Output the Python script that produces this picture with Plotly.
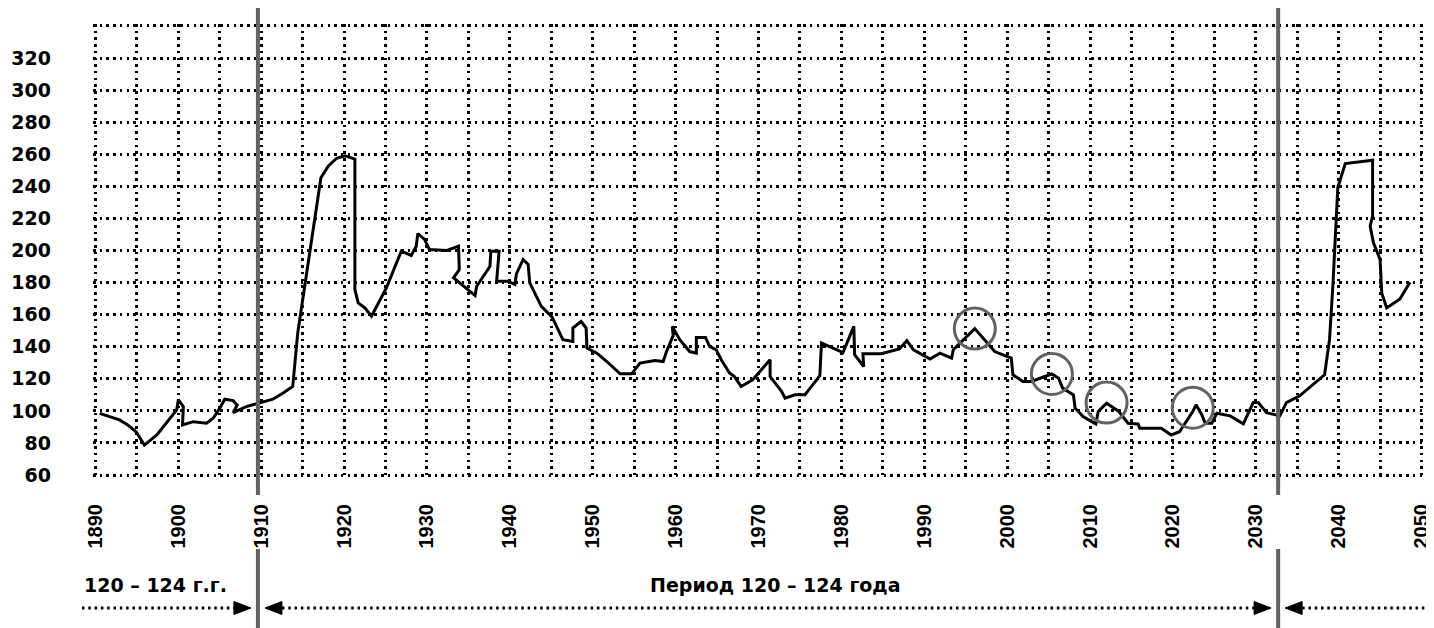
import plotly.graph_objects as go

# ---- data ----
years = [1890.5, 1892.9, 1893.9, 1894.9, 1895.9, 1897.4, 1899.8, 1900.0, 1900.6, 1900.5,
         1901.8, 1903.4, 1904.2, 1905.0, 1905.6, 1906.6, 1907.1, 1906.8, 1906.6, 1908.2,
         1909.8, 1911.4, 1912.6, 1913.8, 1914.4, 1917.2, 1918.1, 1919.1, 1920.1, 1921.3,
         1921.3, 1921.7, 1922.5, 1923.3, 1925.1, 1926.9, 1928.1, 1928.7, 1928.9, 1929.7,
         1930.3, 1932.4, 1933.8, 1933.9, 1933.2, 1935.0, 1935.8, 1936.0, 1937.6, 1937.7,
         1938.7, 1938.4, 1939.8, 1940.6, 1940.8, 1941.6, 1942.2, 1942.4, 1943.8, 1945.1,
         1946.4, 1947.6, 1947.6, 1948.6, 1949.2, 1949.3, 1950.5, 1951.7, 1953.3, 1954.7,
         1955.7, 1957.5, 1958.5, 1958.9, 1959.7, 1959.6, 1960.5, 1961.7, 1962.5, 1962.5,
         1963.6, 1964.1, 1964.9, 1965.5, 1966.5, 1967.1, 1967.9, 1969.3, 1971.4, 1971.4,
         1972.4, 1972.8, 1973.2, 1974.4, 1975.6, 1977.4, 1977.6, 1980.2, 1981.5, 1981.6,
         1982.7, 1982.6, 1984.8, 1987.0, 1987.9, 1988.7, 1990.7, 1991.9, 1993.3, 1993.5,
         1996.1, 1998.5, 2000.5, 2000.7, 2001.9, 2002.9, 2004.3, 2005.4, 2006.2, 2006.7,
         2008.0, 2008.2, 2009.2, 2010.7, 2011.0, 2012.0, 2013.4, 2014.6, 2015.8, 2016.0,
         2018.6, 2019.8, 2020.8, 2022.4, 2022.8, 2023.5, 2023.9, 2024.7, 2025.3, 2026.9,
         2028.5, 2029.7, 2030.3, 2031.3, 2032.9, 2033.7, 2035.3, 2038.3, 2038.9, 2039.3,
         2039.9, 2040.8, 2044.1, 2044.1, 2043.8, 2044.2, 2045.0, 2045.2, 2045.8, 2047.4,
         2048.6]
values = [98.5, 94.4, 91.2, 87.0, 78.7, 85.0, 100.6, 107.0, 102.7, 91.2,
          93.3, 92.3, 95.4, 101.7, 107.3, 106.4, 103.7, 100.6, 98.9, 102.7,
          105.2, 107.3, 111.0, 115.2, 148.5, 245.4, 252.7, 257.5, 259.0, 257.0,
          175.6, 167.3, 164.2, 159.0, 176.7, 199.6, 196.9, 202.7, 210.6, 206.9,
          200.6, 200.0, 202.7, 188.1, 183.0, 175.6, 171.9, 177.7, 190.2, 199.6,
          199.6, 180.8, 180.8, 178.8, 185.6, 194.4, 191.3, 179.8, 165.2, 158.5,
          144.4, 143.3, 151.7, 155.8, 151.7, 139.2, 136.0, 130.8, 123.1, 123.1,
          129.8, 131.4, 130.8, 137.0, 146.9, 152.7, 144.4, 137.0, 136.0, 145.8,
          145.8, 140.2, 138.1, 131.9, 123.6, 121.4, 115.2, 119.4, 131.9, 121.4,
          114.2, 112.0, 107.9, 110.0, 110.0, 121.9, 142.3, 136.4, 152.7, 135.0,
          127.7, 135.6, 135.6, 138.6, 143.8, 138.1, 132.3, 136.0, 132.9, 138.1,
          151.3, 137.0, 132.9, 122.5, 118.3, 118.3, 121.0, 123.0, 120.4, 114.2,
          110.0, 101.7, 96.4, 91.9, 99.6, 104.8, 100.0, 92.3, 91.9, 89.2,
          89.2, 85.0, 87.0, 99.6, 103.8, 97.5, 92.3, 92.3, 98.6, 96.9,
          91.9, 105.2, 105.2, 98.9, 96.9, 105.2, 109.4, 122.5, 144.4, 177.7,
          239.2, 254.2, 256.3, 221.4, 215.2, 204.8, 194.4, 173.6, 164.2, 169.8,
          180.2]

circle_years = [1996.1, 2005.4, 2012.0, 2022.4]
circle_values = [151.3, 123.0, 105.2, 102.0]

period_bounds = [1909.6, 2032.7]
x_ticks = list(range(1890, 2051, 5))
x_labels = [str(v) if v % 10 == 0 else "" for v in x_ticks]
y_ticks = list(range(60, 341, 20))
y_labels = [str(v) if v <= 320 else "" for v in y_ticks]
left_label = "120 – 124 г.г."
mid_label = "Период 120 – 124 года"

# ---- layout geometry (page has an 8px body margin) ----
OFF = 8
W, H = 1434 - OFF, 628 - OFF
ML, MR, MT, MB = 85, 10, 16, 151
XR = [1889.7, 2050.3]
YR = [58.8, 341.2]
plot_w = W - ML - MR
plot_h = H - MT - MB


def year_to_paper(yr):
    return (yr - XR[0]) / (XR[1] - XR[0])


def pagex_to_paper(px):
    return (px - OFF - ML) / plot_w


def pagey_to_paper(py):
    return (H - MB - (py - OFF)) / plot_h


fig = go.Figure()

fig.add_trace(go.Scatter(
    x=years, y=values, mode="lines",
    line=dict(color="black", width=3),
    hoverinfo="skip", showlegend=False))

fig.add_trace(go.Scatter(
    x=circle_years, y=circle_values, mode="markers",
    marker=dict(symbol="circle-open", size=41,
                line=dict(color="#626262", width=3), color="#626262"),
    hoverinfo="skip", showlegend=False))

shapes = []
# thick period boundary lines (upper part and lower part, interrupted by tick labels)
for xb in period_bounds:
    shapes.append(dict(type="line", xref="x", yref="paper", x0=xb, x1=xb,
                       y0=pagey_to_paper(495), y1=pagey_to_paper(8),
                       line=dict(color="#626262", width=4)))
    shapes.append(dict(type="line", xref="x", yref="paper", x0=xb, x1=xb,
                       y0=pagey_to_paper(640), y1=pagey_to_paper(549),
                       line=dict(color="#626262", width=4)))

# arrows row
ay = pagey_to_paper(608)
head_len = 17 / plot_w
gap = 7 / plot_w
half_h = 6.5 / plot_h
dot = dict(color="black", width=3, dash="2.5px,3.8px")


def head(tip, direction):
    base = tip - direction * head_len
    return dict(type="path", xref="paper", yref="paper",
                path=f"M {tip},{ay} L {base},{ay + half_h} L {base},{ay - half_h} Z",
                fillcolor="black", line=dict(color="black", width=1))


start_left = pagex_to_paper(82)
end_right = pagex_to_paper(1432)
p0, p1 = [year_to_paper(v) for v in period_bounds]
# left arrow ->|
shapes.append(dict(type="line", xref="paper", yref="paper", x0=start_left,
                   x1=p0 - gap - head_len, y0=ay, y1=ay, line=dot))
shapes.append(head(p0 - gap, 1))
# middle arrow |<- ... ->|
shapes.append(head(p0 + gap, -1))
shapes.append(dict(type="line", xref="paper", yref="paper", x0=p0 + gap + head_len,
                   x1=p1 - gap - head_len, y0=ay, y1=ay, line=dot))
shapes.append(head(p1 - gap, 1))
# right arrow |<- ...
shapes.append(head(p1 + gap, -1))
shapes.append(dict(type="line", xref="paper", yref="paper", x0=p1 + gap + head_len,
                   x1=end_right, y0=ay, y1=ay, line=dot))

label_font = dict(family="DejaVu Sans", size=19, color="black", weight="bold")
annotations = [
    dict(text=left_label, xref="paper", yref="paper", x=start_left, y=pagey_to_paper(585),
         xanchor="left", yanchor="middle", showarrow=False, font=label_font),
    dict(text=mid_label, xref="paper", yref="paper", x=pagex_to_paper(775), y=pagey_to_paper(585),
         xanchor="center", yanchor="middle", showarrow=False, font=label_font),
]

grid = dict(showgrid=True, gridcolor="black", gridwidth=2.5, griddash="2.5px,4.2px",
            zeroline=False, showline=False, ticks="", automargin=False)

fig.update_layout(
    width=W, height=H,
    margin=dict(l=ML, r=MR, t=MT, b=MB),
    paper_bgcolor="white", plot_bgcolor="white",
    xaxis=dict(range=XR, tickmode="array", tickvals=x_ticks, ticktext=x_labels,
               tickangle=-90, ticklabelstandoff=22,
               tickfont=dict(family="Liberation Sans", size=20, color="black", weight="bold"),
               **grid),
    yaxis=dict(range=YR, tickmode="array", tickvals=y_ticks, ticktext=y_labels,
               ticklabelstandoff=41,
               tickfont=dict(family="DejaVu Sans", size=19, color="black", weight="bold"),
               **grid),
    shapes=shapes,
    annotations=annotations,
    showlegend=False,
)

fig.write_html("out.html")
